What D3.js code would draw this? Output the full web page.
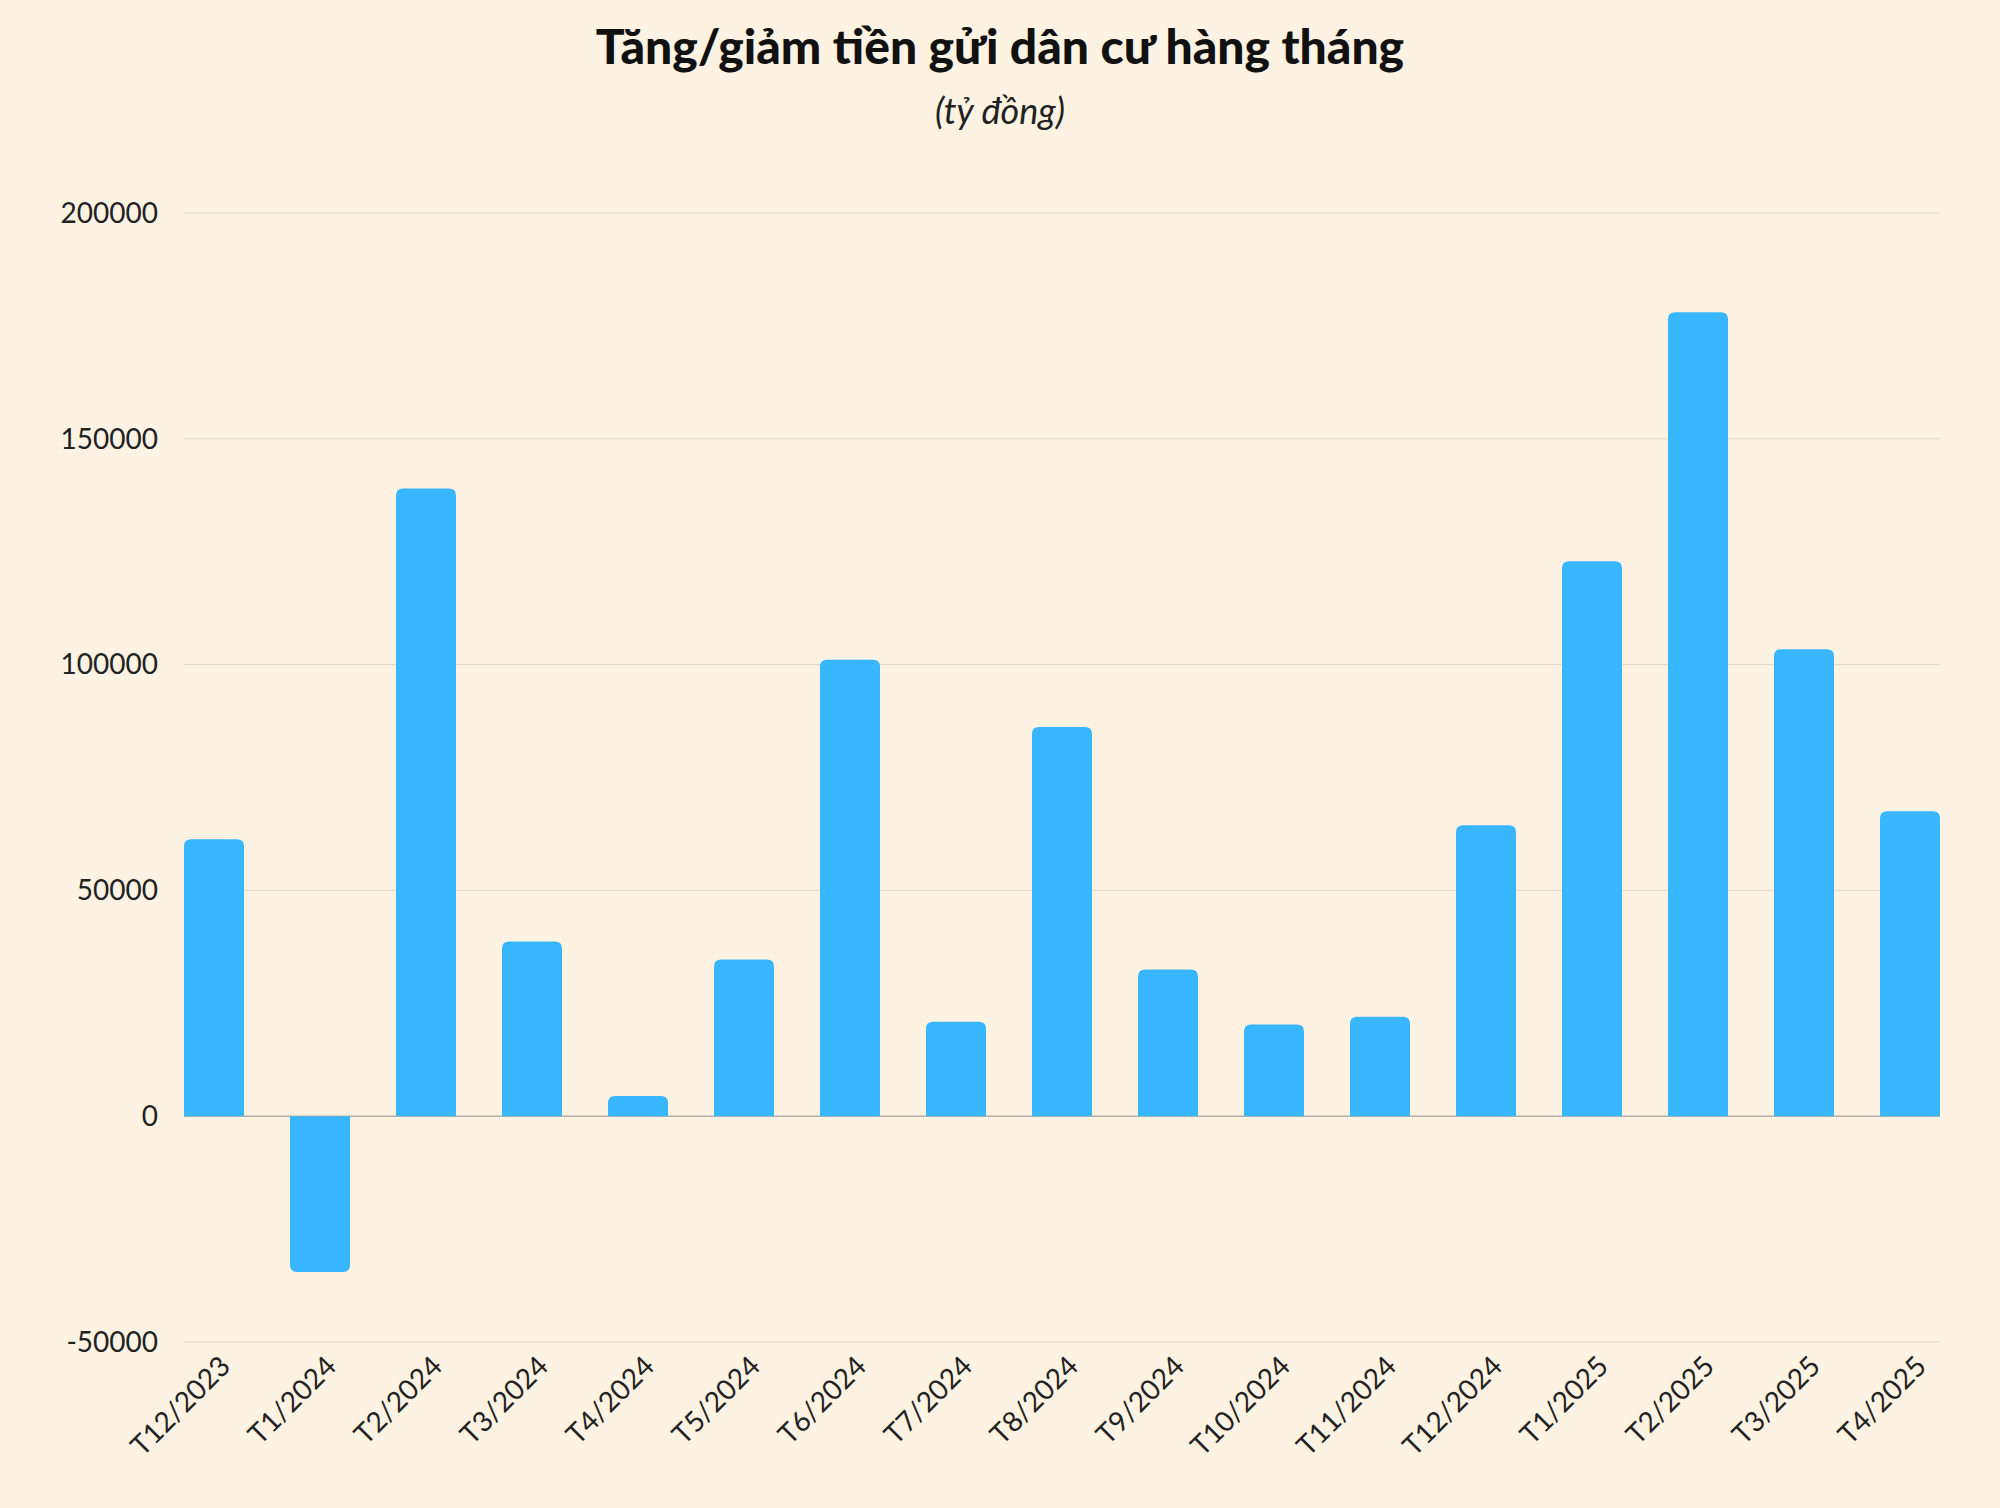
<!DOCTYPE html>
<html><head><meta charset="utf-8">
<script src="https://cdn.jsdelivr.net/npm/d3@7"></script>
<style>body{margin:0;background:#fef3e2}svg{display:block}</style></head>
<body><svg id="c" width="2000" height="1508"></svg>
<script>
const categories=["T12/2023","T1/2024","T2/2024","T3/2024","T4/2024","T5/2024","T6/2024","T7/2024","T8/2024","T9/2024","T10/2024","T11/2024","T12/2024","T1/2025","T2/2025","T3/2025","T4/2025"];
const values=[61300,-34500,139000,38700,4500,34700,101100,20900,86200,32500,20300,22000,64400,122900,178000,103400,67500];
const yTicks=[-50000,0,50000,100000,150000,200000];
const svg=d3.select("#c");
svg.append("rect").attr("width",2000).attr("height",1508).attr("fill","#fef3e2");
const L=184,R=1940;
const y=d3.scaleLinear().domain([-50000,200000]).range([1342,213]);
const bw=60;
const x=d3.scalePoint().domain(categories).range([L+bw/2,R-bw/2]);
const font="Lato, 'Noto Sans', sans-serif";
svg.append("text").attr("x",1000).attr("y",64).attr("text-anchor","middle").attr("font-family",font).attr("font-weight",900).attr("font-size",48).attr("fill","#111").text("Tăng/giảm tiền gửi dân cư hàng tháng");
svg.append("text").attr("x",1000).attr("y",124).attr("text-anchor","middle").attr("font-family",font).attr("font-style","italic").attr("font-size",36).attr("fill","#222").text("(tỷ đồng)");
const g=svg.append("g");
yTicks.forEach(t=>{
 g.append("line").attr("x1",L).attr("x2",R).attr("y1",y(t)).attr("y2",y(t)).attr("stroke",t===0?"#b8b0a4":"#e0d8cc").attr("stroke-width",t===0?1.5:1);
 g.append("text").attr("x",L-26).attr("y",y(t)).attr("dy","0.35em").attr("text-anchor","end").attr("font-family",font).attr("font-size",28).attr("fill","#222").text(t);
});
const r=7;
g.selectAll("path.bar").data(values).join("path").attr("fill","#38b6ff").attr("d",(v,i)=>{
 const x0=x(categories[i])-bw/2,x1=x0+bw,y0=y(0),yv=y(v);
 if(v>=0) return `M${x0},${y0}V${yv+r}Q${x0},${yv} ${x0+r},${yv}H${x1-r}Q${x1},${yv} ${x1},${yv+r}V${y0}Z`;
 return `M${x0},${y0}V${yv-r}Q${x0},${yv} ${x0+r},${yv}H${x1-r}Q${x1},${yv} ${x1},${yv-r}V${y0}Z`;
});
categories.forEach(c=>{
 const cx=x(c)+18, cy=1368;
 g.append("text").attr("transform",`translate(${cx},${cy}) rotate(-45)`).attr("text-anchor","end").attr("font-family",font).attr("font-size",28).attr("fill","#222").text(c);
});
</script></body></html>
